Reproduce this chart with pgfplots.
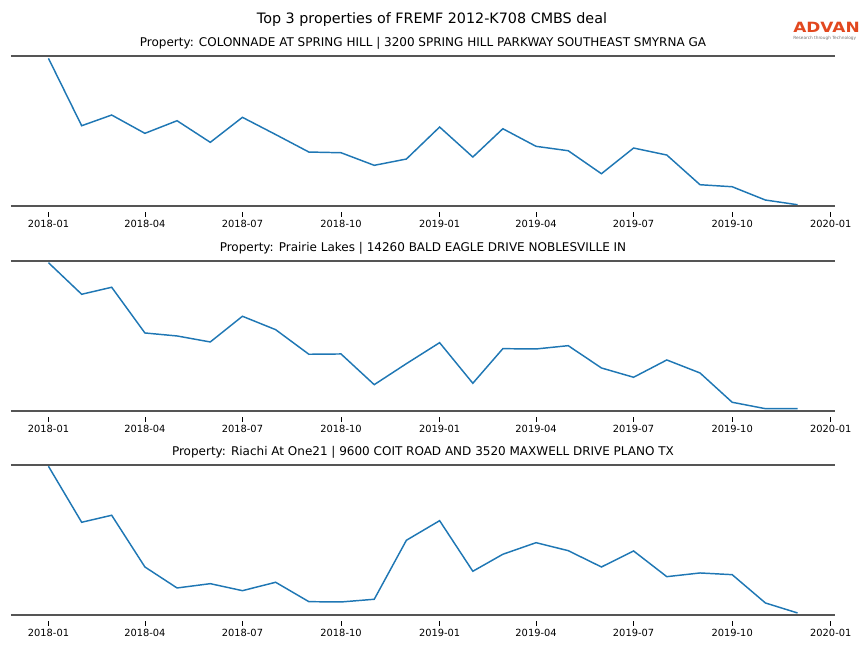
\documentclass[border=0pt]{standalone}
\usepackage{pgfplots}
\pgfplotsset{compat=1.18}
\usepackage{fontspec}
\setmainfont{DejaVu Sans}
\definecolor{mplblue}{HTML}{1F77B4}
\definecolor{spinec}{HTML}{555555}
\definecolor{advan}{HTML}{E2481F}
\pgfplotsset{panel/.style={
  scale only axis, width=618pt, height=112.5pt,
  xmin=-34.95, xmax=733.95, ymin=0, ymax=150,
  axis line style={draw=none},
  ytick=\empty,
  xtick={0,90,181,273,365,455,546,638,730},
  xticklabels={2018-01,2018-04,2018-07,2018-10,2019-01,2019-04,2019-07,2019-10,2020-01},
  xtick pos=left,
  tick align=outside,
  major tick length=3.3pt,
  xtick style={black, line width=0.6pt, yshift=-5pt},
  xticklabel style={font=\fontsize{7.4}{8.5}\selectfont, yshift=-4pt},
  clip=false,
  anchor=south west,
}}
\begin{document}
\begin{tikzpicture}
\path[use as bounding box] (0,0) rectangle (648pt,-486pt);
\node[anchor=base, font=\fontsize{10.75}{12}\selectfont] at (324pt,-18pt) {Top 3 properties of FREMF 2012-K708 CMBS deal};
\node[anchor=base west, inner sep=0pt, text=advan, font=\bfseries\fontsize{10.6}{12}\selectfont] at (594.75pt,-24.2pt) {\scalebox{1.2}[1]{ADVAN}};
\node[anchor=base west, inner sep=0pt, text=black!55, font=\fontsize{3.2}{4}\selectfont] at (594.75pt,-29.3pt) {Research through Technology};

\begin{axis}[panel, at={(8.25pt,-154.3pt)}]
\addplot[mplblue, line width=1.1pt] coordinates {
(0,147.4)(31,80)(59,90.7)(90,72.4)(120,85)(151,63.4)(181,88.4)(212,71.2)(243,53.7)(273,53)(304,40.4)(334,46.7)
(365,78.7)(396,48.7)(424,77)(455,59.4)(485,55)(516,32)(546,57.7)(577,50.7)(608,21)(638,19)(669,5.7)(699,1)};
\draw[spinec, line width=1.5pt] (rel axis cs:0,0) -- (rel axis cs:1,0);
\draw[spinec, line width=1.5pt] (rel axis cs:0,1) -- (rel axis cs:1,1);
\node[anchor=base, font=\fontsize{9}{10}\selectfont] at ([yshift=6.8pt]rel axis cs:0.5,1) {Property: COLONNADE AT SPRING HILL | 3200 SPRING HILL PARKWAY SOUTHEAST SMYRNA GA};
\end{axis}

\begin{axis}[panel, at={(8.25pt,-308pt)}]
\addplot[mplblue, line width=1.1pt] coordinates {
(0,148)(31,116.4)(59,123.4)(90,77.7)(120,74.7)(151,68.7)(181,94.4)(212,81)(243,56.4)(273,56.7)(304,26)(334,47)
(365,68)(396,27.4)(424,62)(455,61.7)(485,65)(516,42.7)(546,33.4)(577,50.7)(608,37.7)(638,8.4)(669,2)(699,2)};
\draw[spinec, line width=1.5pt] (rel axis cs:0,0) -- (rel axis cs:1,0);
\draw[spinec, line width=1.5pt] (rel axis cs:0,1) -- (rel axis cs:1,1);
\node[anchor=base, font=\fontsize{9}{10}\selectfont] at ([yshift=6.8pt]rel axis cs:0.5,1) {Property: Prairie Lakes | 14260 BALD EAGLE DRIVE NOBLESVILLE IN};
\end{axis}

\begin{axis}[panel, at={(8.25pt,-461pt)}]
\addplot[mplblue, line width=1.1pt] coordinates {
(0,148.4)(31,92.4)(59,99.4)(90,47.7)(120,26.7)(151,31)(181,24)(212,32.4)(243,13)(273,12.7)(304,15.4)(334,74.4)
(365,94)(396,43.4)(424,60.4)(455,72)(485,64)(516,47.7)(546,63.7)(577,38)(608,41.7)(638,40)(669,11.7)(699,1.7)};
\draw[spinec, line width=1.5pt] (rel axis cs:0,0) -- (rel axis cs:1,0);
\draw[spinec, line width=1.5pt] (rel axis cs:0,1) -- (rel axis cs:1,1);
\node[anchor=base, font=\fontsize{9}{10}\selectfont] at ([yshift=6.8pt]rel axis cs:0.5,1) {Property: Riachi At One21 | 9600 COIT ROAD AND 3520 MAXWELL DRIVE PLANO TX};
\end{axis}
\end{tikzpicture}
\end{document}
